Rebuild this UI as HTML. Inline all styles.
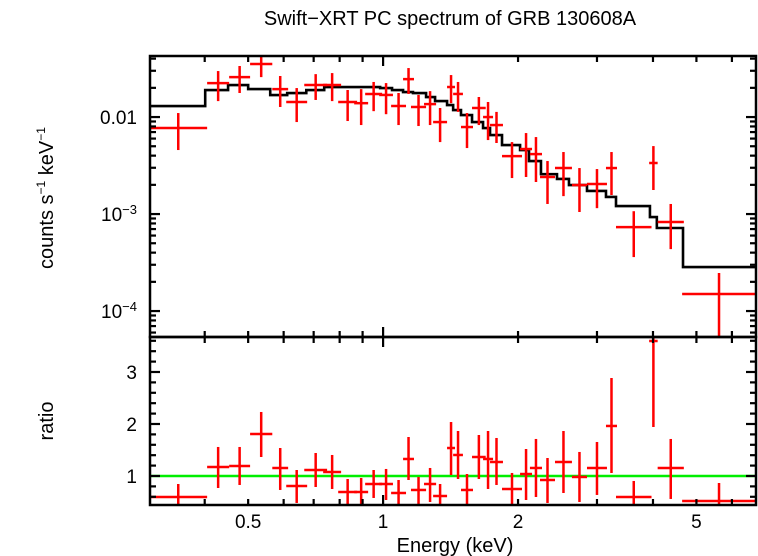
<!DOCTYPE html>
<html><head><meta charset="utf-8"><style>
html,body{margin:0;padding:0;background:#fff;}
svg{display:block;font-family:"Liberation Sans",sans-serif;}
</style></head><body>
<svg id="chart" width="758" height="556" viewBox="0 0 758 556">
<text x="450" y="25" text-anchor="middle" font-size="20">Swift−XRT PC spectrum of GRB 130608A</text>
<text transform="translate(53,198) rotate(-90)" text-anchor="middle" font-size="20">counts s<tspan dy="-8" font-size="12">−1</tspan><tspan dy="8"> keV</tspan><tspan dy="-8" font-size="12">−1</tspan></text>
<text transform="translate(53,421) rotate(-90)" text-anchor="middle" font-size="20">ratio</text>
<text x="455" y="552" text-anchor="middle" font-size="20">Energy (keV)</text>
<defs>
<clipPath id="clipTop"><rect x="150" y="56" width="606" height="281"/></clipPath>
<clipPath id="clipBot"><rect x="150" y="337" width="606" height="168"/></clipPath>
</defs>
<g id="topPanel" clip-path="url(#clipTop)"></g>
<g id="botPanel" clip-path="url(#clipBot)"></g>
<g id="axes"></g>
</svg>
<script>
const eLo = [0.301,0.405,0.4535,0.505,0.566,0.608,0.667,0.735,0.794,0.862,0.912,0.98,1.042,1.108,1.154,1.234,1.293,1.389,1.433,1.492,1.579,1.671,1.732,1.842,2.021,2.126,2.239,2.418,2.638,2.85,3.142,3.308,3.922,4.097,4.646];
const eHi = [0.405,0.4535,0.505,0.566,0.614,0.677,0.75,0.806,0.875,0.926,0.995,1.052,1.125,1.172,1.247,1.313,1.389,1.447,1.507,1.587,1.694,1.759,1.851,2.041,2.149,2.262,2.418,2.638,2.85,3.158,3.325,3.97,4.097,4.687,6.787];
const counts = [0.0077,0.0224,0.0258,0.0352,0.0194,0.0143,0.0214,0.0214,0.0143,0.0139,0.0173,0.0169,0.0130,0.0246,0.0127,0.0136,0.00888,0.0204,0.0173,0.00789,0.0124,0.0100,0.00827,0.00396,0.00468,0.00415,0.00241,0.00298,0.00199,0.00204,0.00298,0.000734,0.00336,0.000827,0.000150];
const countsLo = [0.00457,0.0146,0.0177,0.0258,0.0127,0.00888,0.0150,0.0146,0.0091,0.00827,0.0115,0.0107,0.00827,0.0173,0.00808,0.00827,0.00552,0.0139,0.0113,0.00479,0.00827,0.00579,0.0054,0.00235,0.00241,0.00214,0.00127,0.00153,0.00105,0.00115,0.00157,0.00036,0.00177,0.000435,0.00001];
const countsHi = [0.0110,0.0298,0.0336,0.0436,0.0265,0.0199,0.0277,0.0284,0.019,0.0194,0.0230,0.0224,0.0177,0.0320,0.0169,0.0185,0.0124,0.0271,0.0230,0.0110,0.0161,0.0143,0.0113,0.00552,0.00684,0.00622,0.00352,0.00436,0.00298,0.00291,0.00436,0.00107,0.00502,0.00127,0.000247];
const ratio = [0.596,1.173,1.192,1.808,1.154,0.808,1.115,1.077,0.692,0.692,0.846,0.846,0.673,1.327,0.731,0.846,0.615,1.538,1.404,0.731,1.365,1.327,1.269,0.75,1.038,1.154,0.923,1.269,0.981,1.154,1.962,0.596,3.596,1.154,0.519];
const ratioLo = [0.404,0.769,0.827,1.365,0.731,0.481,0.788,0.75,0.442,0.40,0.577,0.538,0.42,0.923,0.462,0.50,0.40,1.019,0.942,0.42,0.942,0.75,0.827,0.42,0.538,0.596,0.481,0.673,0.50,0.635,1.058,0.40,1.942,0.558,0.40];
const ratioHi = [0.846,1.558,1.558,2.231,1.538,1.115,1.442,1.404,0.942,0.962,1.115,1.135,0.923,1.75,0.981,1.154,0.846,2.038,1.865,1.038,1.788,1.865,1.731,1.058,1.519,1.712,1.346,1.865,1.462,1.654,2.885,0.904,4.5,1.712,0.865];
const modelEdges = [0.301,0.401,0.451,0.500,0.560,0.611,0.674,0.739,0.798,0.985,1.047,1.108,1.166,1.247,1.306,1.389,1.433,1.492,1.579,1.671,1.732,1.842,2.021,2.116,2.25,2.443,2.598,2.850,3.142,3.308,3.938,4.08,4.667,6.787];
const modelVals = [0.01298,0.01897,0.02137,0.01944,0.01686,0.01767,0.01897,0.02038,0.02038,0.01990,0.01897,0.01811,0.01767,0.01608,0.01462,0.01330,0.01181,0.01049,0.00888,0.00770,0.00652,0.00514,0.00457,0.00352,0.00258,0.00230,0.00199,0.00173,0.00150,0.00121,0.000931,0.000718,0.000284];
const xTickLabels = [0.5,1,2,5];
const yTopLabels = [0.01,0.001,0.0001];
const yBotLabels = [1,2,3];

const NS="http://www.w3.org/2000/svg";
const X0=150,X1=756,TY0=56,TY1=337,BY0=337,BY1=505;
const xMin=0.302,xMax=6.79,cMin=5.4e-5,cMax=0.0426,rMin=0.442,rMax=3.673;
const xs=e=>X0+(X1-X0)*Math.log10(e/xMin)/Math.log10(xMax/xMin);
const ys=c=>TY1-(TY1-TY0)*Math.log10(c/cMin)/Math.log10(cMax/cMin);
const yr=r=>BY1-(BY1-BY0)*(r-rMin)/(rMax-rMin);
function mk(tag,attrs,parent){const el=document.createElementNS(NS,tag);for(const k in attrs)el.setAttribute(k,attrs[k]);parent.appendChild(el);return el;}
const gTop=document.getElementById('topPanel'),gBot=document.getElementById('botPanel'),axes=document.getElementById('axes');
const RED='#ff0000',RW=2.5;
let d='';
for(let i=0;i<modelVals.length;i++){const y=ys(modelVals[i]);d+=(i?'L':'M')+xs(modelEdges[i])+','+y+'L'+xs(modelEdges[i+1])+','+y;}
const mp=mk('path',{d:d,fill:'none',stroke:'#000','stroke-width':2.6},gTop);


const ul=mk('line',{x1:X0,x2:X1,y1:yr(1),y2:yr(1),stroke:'#00ee00','stroke-width':2.5},gBot);


for(let i=0;i<counts.length;i++){
  const xa=xs(eLo[i]),xb=xs(eHi[i]),xc=(xa+xb)/2;
  const g=mk('g',{},gTop);
  
  
  mk('line',{x1:xa,x2:xb,y1:ys(counts[i]),y2:ys(counts[i]),stroke:RED,'stroke-width':RW},g);
  mk('line',{x1:xc,x2:xc,y1:ys(countsLo[i]),y2:ys(countsHi[i]),stroke:RED,'stroke-width':RW},g);
  const h=mk('g',{},gBot);
  
  
  mk('line',{x1:xa,x2:xb,y1:yr(ratio[i]),y2:yr(ratio[i]),stroke:RED,'stroke-width':RW},h);
  mk('line',{x1:xc,x2:xc,y1:yr(ratioLo[i]),y2:yr(ratioHi[i]),stroke:RED,'stroke-width':RW},h);
}
const f1=mk('rect',{x:X0,y:TY0,width:X1-X0,height:TY1-TY0,fill:'none',stroke:'#000','stroke-width':2.5},axes);


const f2=mk('rect',{x:X0,y:BY0,width:X1-X0,height:BY1-BY0,fill:'none',stroke:'#000','stroke-width':2.5},axes);


function tk(x1,y1,x2,y2){mk('line',{x1:x1,y1:y1,x2:x2,y2:y2,stroke:'#000','stroke-width':2.2},axes);}
const xt=[0.4,0.5,0.6,0.7,0.8,0.9,1,2,3,4,5,6];
for(const e of xt){const x=xs(e);const L=(e===1)?10:6;
  tk(x,TY0,x,TY0+L);tk(x,TY1,x,TY1-L);tk(x,BY0,x,BY0+L);tk(x,BY1,x,BY1-L);}
for(let p=-5;p<=-1;p++){for(let m=1;m<=9;m++){const c=m*Math.pow(10,p);if(c<cMin||c>cMax)continue;const y=ys(c);const L=m===1?10:6;tk(X0,y,X0+L,y);tk(X1,y,X1-L,y);}}
for(let k=3;k<=18;k++){const rr=k*0.2;const y=yr(rr);const L=(k%5===0)?10:6;tk(X0,y,X0+L,y);tk(X1,y,X1-L,y);}
for(const e of xTickLabels){const t=mk('text',{x:xs(e),y:528,'text-anchor':'middle','font-size':19},axes);t.textContent=String(e);
  
  }
for(const c of yTopLabels){const t=mk('text',{x:137,y:ys(c)+7,'text-anchor':'end','font-size':19},axes);
  
  
  if(c===0.01){t.textContent='0.01';}else{const p=Math.round(Math.log10(c));t.innerHTML='10<tspan dy="-7" font-size="13">−'+(-p)+'</tspan>';}}
for(const r of yBotLabels){const t=mk('text',{x:137,y:yr(r)+7,'text-anchor':'end','font-size':19},axes);t.textContent=String(r);
  
  }
</script>
</body></html>
